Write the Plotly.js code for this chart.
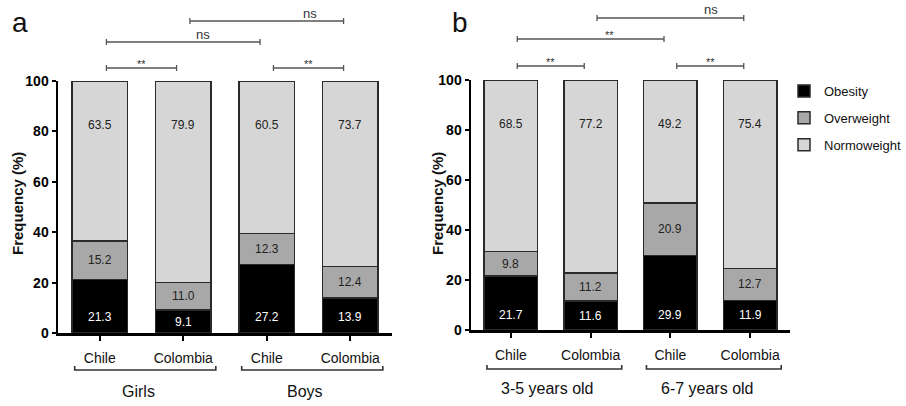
<!DOCTYPE html>
<html><head><meta charset="utf-8">
<script src="https://cdn.plot.ly/plotly-3.0.1.min.js"></script>
<style>body{margin:0;background:#fff}#chart{width:906px;height:406px}</style>
</head><body><div id="chart"></div>
<script>
// ---- data ----
const countries = ['Chile', 'Colombia', 'Chile', 'Colombia'];
const groupsA = ['Girls', 'Boys'];
const groupsB = ['3-5 years old', '6-7 years old'];
const seriesNames = ['Obesity', 'Overweight', 'Normoweight'];
const obesityA = [21.3, 9.1, 27.2, 13.9];
const overweightA = [15.2, 11.0, 12.3, 12.4];
const normoA = [63.5, 79.9, 60.5, 73.7];
const obesityB = [21.7, 11.6, 29.9, 11.9];
const overweightB = [9.8, 11.2, 20.9, 12.7];
const normoB = [68.5, 77.2, 49.2, 75.4];
const sigA = [[0, 1, '**'], [2, 3, '**'], [0, 2, 'ns'], [1, 3, 'ns']];
const sigB = [[0, 1, '**'], [2, 3, '**'], [0, 2, '**'], [1, 3, 'ns']];
const yTicks = [0, 20, 40, 60, 80, 100];

// ---- layout helpers ----
const W = 906, H = 406;
const py = p => 1 - p / H;
const colors = ['#000000', '#a8a8a8', '#d6d6d6'];
const xIdx = [0, 1, 2, 3];
const FONT = 'Liberation Sans, Arial, sans-serif';

function traces(series, xa, ya, showleg) {
  return series.map((vals, k) => ({
    type: 'bar', x: xIdx, y: vals, name: seriesNames[k], xaxis: xa, yaxis: ya,
    width: 0.67, showlegend: showleg, legendgroup: seriesNames[k],
    marker: {color: colors[k], line: {color: '#2a2a2a', width: 1.5}},
    hoverinfo: 'skip'
  }));
}
const data = [
  ...traces([obesityA, overweightA, normoA], 'x', 'y', true),
  ...traces([obesityB, overweightB, normoB], 'x2', 'y2', false)
];

function xAxis(dom) {
  return {domain: dom, range: [-0.5, 3.5], tickvals: xIdx, ticktext: countries,
    showline: true, linecolor: '#000', linewidth: 2.5, ticks: 'outside', ticklen: 5,
    tickwidth: 2, tickcolor: '#000', showgrid: false, zeroline: false,
    tickfont: {size: 14, family: FONT, color: '#111'}, ticklabelstandoff: 6, fixedrange: true};
}
function yAxis(dom, anchor) {
  return {domain: dom, range: [0, 100], tickvals: yTicks, anchor: anchor,
    showline: true, linecolor: '#000', linewidth: 2.5, ticks: 'outside', ticklen: 4,
    tickwidth: 2, tickcolor: '#000', showgrid: false, zeroline: false,
    tickfont: {size: 14, family: FONT, color: '#000', weight: 700}, fixedrange: true};
}

const shapes = [], annotations = [];

// value labels inside segments
function valueLabels(obs, ov, nm, xa, ya) {
  for (let i = 0; i < 4; i++) {
    annotations.push({xref: xa, yref: ya, x: i, y: Math.min(obs[i] / 2, 6.2), text: obs[i].toFixed(1),
      showarrow: false, font: {size: 12, color: '#fff', family: FONT}});
    annotations.push({xref: xa, yref: ya, x: i, y: obs[i] + ov[i] / 2, text: ov[i].toFixed(1),
      showarrow: false, font: {size: 12, color: '#222', family: FONT}});
    annotations.push({xref: xa, yref: ya, x: i, y: 82.5, text: nm[i].toFixed(1),
      showarrow: false, font: {size: 12, color: '#222', family: FONT}});
  }
}
valueLabels(obesityA, overweightA, normoA, 'x', 'y');
valueLabels(obesityB, overweightB, normoB, 'x2', 'y2');

// significance brackets
function sigBrackets(sig, xa, levels, textFrac) {
  sig.forEach((s, k) => {
    const x0 = s[0] + 0.08, x1 = s[1] - 0.08;
    const yl = levels[k];
    const a = py(yl - 3), b = py(yl + 3), m = py(yl);
    shapes.push({type: 'path', xref: xa, yref: 'paper',
      path: `M${x0},${a} L${x0},${b} M${x0},${m} L${x1},${m} M${x1},${a} L${x1},${b}`,
      line: {color: '#555', width: 1.3}});
    const tx = x0 + (x1 - x0) * textFrac[k];
    const isStar = s[2] === '**';
    annotations.push({xref: xa, yref: 'paper', x: tx, y: py(yl - (isStar ? 4 : 8)),
      yanchor: 'middle', text: s[2], showarrow: false,
      font: {size: isStar ? 11 : 13, color: '#333', family: FONT}});
  });
}
sigBrackets(sigA, 'x', [68, 68, 42, 21], [0.5, 0.5, 0.63, 0.78]);
sigBrackets(sigB, 'x2', [66, 66, 39, 18], [0.5, 0.5, 0.63, 0.78]);

// group brackets
function groupBrackets(groups, xa, yl, ylab) {
  groups.forEach((g, k) => {
    const x0 = 2 * k - 0.3, x1 = 2 * k + 1.39;
    shapes.push({type: 'path', xref: xa, yref: 'paper',
      path: `M${x0},${py(yl - 4)} L${x0},${py(yl)} L${x1},${py(yl)} L${x1},${py(yl - 4)}`,
      line: {color: '#333', width: 1.6}});
    annotations.push({xref: xa, yref: 'paper', x: 2 * k + 0.46, y: py(ylab), yanchor: 'middle',
      text: g, showarrow: false, font: {size: 16, color: '#111', family: FONT}});
  });
}
groupBrackets(groupsA, 'x', 370, 391);
groupBrackets(groupsB, 'x2', 369, 388);

// y titles and panel letters
[[17, 'a'], [437, 'b']].forEach(([xp, letter], k) => {
  annotations.push({xref: 'paper', yref: 'paper', x: xp / W, y: py(204), textangle: -90,
    text: 'Frequency (%)', showarrow: false, xanchor: 'center', yanchor: 'middle',
    font: {size: 15, color: '#111', family: FONT, weight: 700}});
  annotations.push({xref: 'paper', yref: 'paper', x: (k ? 460 : 20) / W, y: py(22),
    text: letter, showarrow: false, xanchor: 'center', yanchor: 'middle',
    font: {size: 28, color: '#111', family: FONT}});
});

const layout = {
  width: W, height: H, margin: {l: 0, r: 0, t: 0, b: 0},
  barmode: 'stack', paper_bgcolor: '#fff', plot_bgcolor: '#fff',
  font: {family: FONT, color: '#000'},
  xaxis: xAxis([58 / W, 392 / W]),
  yaxis: yAxis([py(333), py(81)], 'x'),
  xaxis2: Object.assign(xAxis([471 / W, 790 / W]), {anchor: 'y2'}),
  yaxis2: yAxis([py(330), py(80)], 'x2'),
  legend: {x: 1, y: py(76), xanchor: 'right', yanchor: 'top', traceorder: 'grouped',
    tracegroupgap: 7, font: {size: 13, family: FONT, color: '#111'}, bgcolor: 'rgba(0,0,0,0)'},
  shapes: shapes, annotations: annotations
};
layout.xaxis.anchor = 'y';

Plotly.newPlot('chart', data, layout, {displayModeBar: false, staticPlot: true});
</script></body></html>
